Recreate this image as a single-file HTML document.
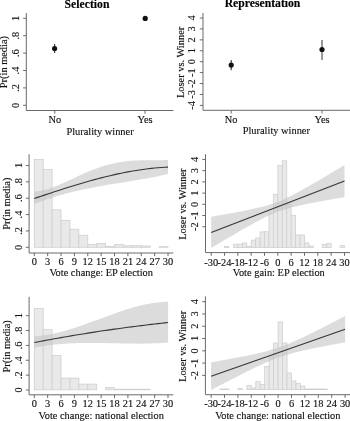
<!DOCTYPE html>
<html><head><meta charset="utf-8"><style>
html,body{margin:0;padding:0;background:#fff;}
body{width:350px;height:421px;overflow:hidden;}
svg{display:block;font-family:"Liberation Serif", serif;will-change:transform;}
</style></head><body>
<svg width="350" height="421" viewBox="0 0 350 421">
<rect width="350" height="421" fill="#fff"/>
<g>
<text x="87.00" y="7.60" text-anchor="middle" font-size="11.7" font-weight="bold" fill="#000" stroke="#000" stroke-width="0.14">Selection</text>
<line x1="26.30" y1="13.00" x2="26.30" y2="110.50" stroke="#6a6a6a" stroke-width="1.0"/>
<line x1="23.10" y1="105.30" x2="26.30" y2="105.30" stroke="#6a6a6a" stroke-width="1.0"/>
<text transform="translate(18.70,105.30) rotate(-90)" text-anchor="middle" font-size="10.4" font-weight="normal" fill="#111111" stroke="#111111" stroke-width="0.14">0</text>
<line x1="23.10" y1="87.90" x2="26.30" y2="87.90" stroke="#6a6a6a" stroke-width="1.0"/>
<text transform="translate(18.70,87.90) rotate(-90)" text-anchor="middle" font-size="10.4" font-weight="normal" fill="#111111" stroke="#111111" stroke-width="0.14">.2</text>
<line x1="23.10" y1="70.50" x2="26.30" y2="70.50" stroke="#6a6a6a" stroke-width="1.0"/>
<text transform="translate(18.70,70.50) rotate(-90)" text-anchor="middle" font-size="10.4" font-weight="normal" fill="#111111" stroke="#111111" stroke-width="0.14">.4</text>
<line x1="23.10" y1="53.10" x2="26.30" y2="53.10" stroke="#6a6a6a" stroke-width="1.0"/>
<text transform="translate(18.70,53.10) rotate(-90)" text-anchor="middle" font-size="10.4" font-weight="normal" fill="#111111" stroke="#111111" stroke-width="0.14">.6</text>
<line x1="23.10" y1="35.70" x2="26.30" y2="35.70" stroke="#6a6a6a" stroke-width="1.0"/>
<text transform="translate(18.70,35.70) rotate(-90)" text-anchor="middle" font-size="10.4" font-weight="normal" fill="#111111" stroke="#111111" stroke-width="0.14">.8</text>
<line x1="23.10" y1="18.30" x2="26.30" y2="18.30" stroke="#6a6a6a" stroke-width="1.0"/>
<text transform="translate(18.70,18.30) rotate(-90)" text-anchor="middle" font-size="10.4" font-weight="normal" fill="#111111" stroke="#111111" stroke-width="0.14">1</text>
<text transform="translate(7.10,62.10) rotate(-90)" text-anchor="middle" font-size="10.4" font-weight="normal" fill="#111111" stroke="#111111" stroke-width="0.14">Pr(in media)</text>
<line x1="26.30" y1="110.50" x2="173.30" y2="110.50" stroke="#6a6a6a" stroke-width="1.0"/>
<line x1="54.80" y1="110.50" x2="54.80" y2="113.70" stroke="#6a6a6a" stroke-width="1.0"/>
<text x="54.80" y="123.00" text-anchor="middle" font-size="10.4" font-weight="normal" fill="#111111" stroke="#111111" stroke-width="0.14">No</text>
<line x1="145.00" y1="110.50" x2="145.00" y2="113.70" stroke="#6a6a6a" stroke-width="1.0"/>
<text x="145.00" y="123.00" text-anchor="middle" font-size="10.4" font-weight="normal" fill="#111111" stroke="#111111" stroke-width="0.14">Yes</text>
<text x="100.00" y="134.50" text-anchor="middle" font-size="10.4" font-weight="normal" fill="#111111" stroke="#111111" stroke-width="0.14">Plurality winner</text>
<line x1="54.60" y1="43.90" x2="54.60" y2="53.10" stroke="#444" stroke-width="1.2"/>
<circle cx="54.6" cy="48.5" r="2.6" fill="#111"/>
<circle cx="145.2" cy="18.4" r="2.6" fill="#111"/>
</g>
<text x="262.50" y="7.30" text-anchor="middle" font-size="11.7" font-weight="bold" fill="#000" stroke="#000" stroke-width="0.14">Representation</text>
<line x1="203.00" y1="13.00" x2="203.00" y2="110.30" stroke="#6a6a6a" stroke-width="1.0"/>
<line x1="199.80" y1="18.02" x2="203.00" y2="18.02" stroke="#6a6a6a" stroke-width="1.0"/>
<text transform="translate(195.40,18.02) rotate(-90)" text-anchor="middle" font-size="10.4" font-weight="normal" fill="#111111" stroke="#111111" stroke-width="0.14">4</text>
<line x1="199.80" y1="28.94" x2="203.00" y2="28.94" stroke="#6a6a6a" stroke-width="1.0"/>
<text transform="translate(195.40,28.94) rotate(-90)" text-anchor="middle" font-size="10.4" font-weight="normal" fill="#111111" stroke="#111111" stroke-width="0.14">3</text>
<line x1="199.80" y1="39.86" x2="203.00" y2="39.86" stroke="#6a6a6a" stroke-width="1.0"/>
<text transform="translate(195.40,39.86) rotate(-90)" text-anchor="middle" font-size="10.4" font-weight="normal" fill="#111111" stroke="#111111" stroke-width="0.14">2</text>
<line x1="199.80" y1="50.78" x2="203.00" y2="50.78" stroke="#6a6a6a" stroke-width="1.0"/>
<text transform="translate(195.40,50.78) rotate(-90)" text-anchor="middle" font-size="10.4" font-weight="normal" fill="#111111" stroke="#111111" stroke-width="0.14">1</text>
<line x1="199.80" y1="61.70" x2="203.00" y2="61.70" stroke="#6a6a6a" stroke-width="1.0"/>
<text transform="translate(195.40,61.70) rotate(-90)" text-anchor="middle" font-size="10.4" font-weight="normal" fill="#111111" stroke="#111111" stroke-width="0.14">0</text>
<line x1="199.80" y1="72.62" x2="203.00" y2="72.62" stroke="#6a6a6a" stroke-width="1.0"/>
<text transform="translate(195.40,72.62) rotate(-90)" text-anchor="middle" font-size="10.4" font-weight="normal" fill="#111111" stroke="#111111" stroke-width="0.14">-1</text>
<line x1="199.80" y1="83.54" x2="203.00" y2="83.54" stroke="#6a6a6a" stroke-width="1.0"/>
<text transform="translate(195.40,83.54) rotate(-90)" text-anchor="middle" font-size="10.4" font-weight="normal" fill="#111111" stroke="#111111" stroke-width="0.14">-2</text>
<line x1="199.80" y1="94.46" x2="203.00" y2="94.46" stroke="#6a6a6a" stroke-width="1.0"/>
<text transform="translate(195.40,94.46) rotate(-90)" text-anchor="middle" font-size="10.4" font-weight="normal" fill="#111111" stroke="#111111" stroke-width="0.14">-3</text>
<line x1="199.80" y1="105.38" x2="203.00" y2="105.38" stroke="#6a6a6a" stroke-width="1.0"/>
<text transform="translate(195.40,105.38) rotate(-90)" text-anchor="middle" font-size="10.4" font-weight="normal" fill="#111111" stroke="#111111" stroke-width="0.14">-4</text>
<text transform="translate(183.80,62.40) rotate(-90)" text-anchor="middle" font-size="10.4" font-weight="normal" fill="#111111" stroke="#111111" stroke-width="0.14">Loser vs. Winner</text>
<line x1="203.00" y1="110.30" x2="350.00" y2="110.30" stroke="#6a6a6a" stroke-width="1.0"/>
<line x1="231.20" y1="110.30" x2="231.20" y2="113.50" stroke="#6a6a6a" stroke-width="1.0"/>
<text x="231.20" y="123.00" text-anchor="middle" font-size="10.4" font-weight="normal" fill="#111111" stroke="#111111" stroke-width="0.14">No</text>
<line x1="322.00" y1="110.30" x2="322.00" y2="113.50" stroke="#6a6a6a" stroke-width="1.0"/>
<text x="322.00" y="123.00" text-anchor="middle" font-size="10.4" font-weight="normal" fill="#111111" stroke="#111111" stroke-width="0.14">Yes</text>
<text x="276.30" y="134.30" text-anchor="middle" font-size="10.4" font-weight="normal" fill="#111111" stroke="#111111" stroke-width="0.14">Plurality winner</text>
<line x1="231.20" y1="60.10" x2="231.20" y2="70.20" stroke="#444" stroke-width="1.2"/>
<circle cx="231.2" cy="65.1" r="2.6" fill="#111"/>
<line x1="322.00" y1="40.00" x2="322.00" y2="59.90" stroke="#555" stroke-width="1.2"/>
<circle cx="322.0" cy="49.5" r="2.6" fill="#111"/>
<rect x="34.30" y="159.50" width="8.91" height="87.80" fill="#e9e9e9" stroke="#d0d0d0" stroke-width="0.8"/>
<rect x="43.21" y="169.40" width="8.91" height="77.90" fill="#e9e9e9" stroke="#d0d0d0" stroke-width="0.8"/>
<rect x="52.13" y="209.80" width="8.91" height="37.50" fill="#e9e9e9" stroke="#d0d0d0" stroke-width="0.8"/>
<rect x="61.04" y="220.30" width="8.91" height="27.00" fill="#e9e9e9" stroke="#d0d0d0" stroke-width="0.8"/>
<rect x="69.96" y="229.20" width="8.91" height="18.10" fill="#e9e9e9" stroke="#d0d0d0" stroke-width="0.8"/>
<rect x="78.87" y="235.20" width="8.91" height="12.10" fill="#e9e9e9" stroke="#d0d0d0" stroke-width="0.8"/>
<rect x="87.78" y="244.40" width="8.91" height="2.90" fill="#e9e9e9" stroke="#d0d0d0" stroke-width="0.8"/>
<rect x="96.70" y="243.40" width="8.91" height="3.90" fill="#e9e9e9" stroke="#d0d0d0" stroke-width="0.8"/>
<rect x="105.61" y="246.50" width="8.91" height="0.80" fill="#e9e9e9" stroke="#d0d0d0" stroke-width="0.8"/>
<rect x="114.53" y="244.60" width="8.91" height="2.70" fill="#e9e9e9" stroke="#d0d0d0" stroke-width="0.8"/>
<rect x="123.44" y="245.80" width="8.91" height="1.50" fill="#e9e9e9" stroke="#d0d0d0" stroke-width="0.8"/>
<rect x="132.35" y="245.70" width="8.91" height="1.60" fill="#e9e9e9" stroke="#d0d0d0" stroke-width="0.8"/>
<rect x="141.27" y="246.00" width="8.91" height="1.30" fill="#e9e9e9" stroke="#d0d0d0" stroke-width="0.8"/>
<rect x="159.10" y="246.60" width="8.91" height="0.70" fill="#e9e9e9" stroke="#d0d0d0" stroke-width="0.8"/>
<path d="M34.30,191.58 L37.64,191.31 L40.98,190.79 L44.33,190.05 L47.67,189.13 L51.01,188.03 L54.35,186.81 L57.70,185.47 L61.04,184.04 L64.38,182.55 L67.72,181.01 L71.07,179.45 L74.41,177.88 L77.75,176.33 L81.09,174.80 L84.44,173.30 L87.78,171.86 L91.12,170.48 L94.47,169.18 L97.81,167.95 L101.15,166.81 L104.49,165.76 L107.83,164.80 L111.18,163.95 L114.52,163.19 L117.86,162.53 L121.20,161.97 L124.55,161.50 L127.89,161.12 L131.23,160.83 L134.57,160.60 L137.92,160.45 L141.26,160.34 L144.60,160.29 L147.94,160.26 L151.29,160.25 L154.63,160.23 L157.97,160.20 L161.31,160.14 L164.66,160.01 L168.00,159.81 L168.00,174.06 L164.66,174.81 L161.31,175.53 L157.97,176.22 L154.63,176.89 L151.29,177.53 L147.94,178.15 L144.60,178.76 L141.26,179.35 L137.92,179.92 L134.57,180.48 L131.23,181.04 L127.89,181.58 L124.55,182.13 L121.20,182.67 L117.86,183.21 L114.52,183.76 L111.18,184.31 L107.83,184.87 L104.49,185.44 L101.15,186.03 L97.81,186.62 L94.47,187.24 L91.12,187.88 L87.78,188.54 L84.44,189.22 L81.09,189.93 L77.75,190.67 L74.41,191.44 L71.07,192.25 L67.72,193.09 L64.38,193.97 L61.04,194.90 L57.70,195.87 L54.35,196.88 L51.01,197.94 L47.67,199.06 L44.33,200.23 L40.98,201.45 L37.64,202.73 L34.30,204.08 Z" fill="#c4c4c4" fill-opacity="0.6" stroke="none"/>
<path d="M34.30,198.51 L37.64,197.38 L40.98,196.26 L44.33,195.14 L47.67,194.02 L51.01,192.92 L54.35,191.82 L57.70,190.73 L61.04,189.65 L64.38,188.58 L67.72,187.52 L71.07,186.48 L74.41,185.45 L77.75,184.44 L81.09,183.44 L84.44,182.46 L87.78,181.50 L91.12,180.56 L94.47,179.65 L97.81,178.75 L101.15,177.88 L104.49,177.03 L107.83,176.21 L111.18,175.42 L114.52,174.65 L117.86,173.91 L121.20,173.21 L124.55,172.53 L127.89,171.89 L131.23,171.28 L134.57,170.71 L137.92,170.17 L141.26,169.67 L144.60,169.20 L147.94,168.78 L151.29,168.40 L154.63,168.06 L157.97,167.76 L161.31,167.50 L164.66,167.29 L168.00,167.13" fill="none" stroke="#353535" stroke-width="1.1" stroke-linejoin="round"/>
<line x1="29.10" y1="154.30" x2="29.10" y2="253.00" stroke="#6a6a6a" stroke-width="1.0"/>
<line x1="25.90" y1="247.30" x2="29.10" y2="247.30" stroke="#6a6a6a" stroke-width="1.0"/>
<text transform="translate(21.50,247.30) rotate(-90)" text-anchor="middle" font-size="10.4" font-weight="normal" fill="#111111" stroke="#111111" stroke-width="0.14">0</text>
<line x1="25.90" y1="230.94" x2="29.10" y2="230.94" stroke="#6a6a6a" stroke-width="1.0"/>
<text transform="translate(21.50,230.94) rotate(-90)" text-anchor="middle" font-size="10.4" font-weight="normal" fill="#111111" stroke="#111111" stroke-width="0.14">.2</text>
<line x1="25.90" y1="214.58" x2="29.10" y2="214.58" stroke="#6a6a6a" stroke-width="1.0"/>
<text transform="translate(21.50,214.58) rotate(-90)" text-anchor="middle" font-size="10.4" font-weight="normal" fill="#111111" stroke="#111111" stroke-width="0.14">.4</text>
<line x1="25.90" y1="198.22" x2="29.10" y2="198.22" stroke="#6a6a6a" stroke-width="1.0"/>
<text transform="translate(21.50,198.22) rotate(-90)" text-anchor="middle" font-size="10.4" font-weight="normal" fill="#111111" stroke="#111111" stroke-width="0.14">.6</text>
<line x1="25.90" y1="181.86" x2="29.10" y2="181.86" stroke="#6a6a6a" stroke-width="1.0"/>
<text transform="translate(21.50,181.86) rotate(-90)" text-anchor="middle" font-size="10.4" font-weight="normal" fill="#111111" stroke="#111111" stroke-width="0.14">.8</text>
<line x1="25.90" y1="165.50" x2="29.10" y2="165.50" stroke="#6a6a6a" stroke-width="1.0"/>
<text transform="translate(21.50,165.50) rotate(-90)" text-anchor="middle" font-size="10.4" font-weight="normal" fill="#111111" stroke="#111111" stroke-width="0.14">1</text>
<text transform="translate(9.90,203.70) rotate(-90)" text-anchor="middle" font-size="10.4" font-weight="normal" fill="#111111" stroke="#111111" stroke-width="0.14">Pr(in media)</text>
<line x1="29.10" y1="253.00" x2="173.30" y2="253.00" stroke="#6a6a6a" stroke-width="1.0"/>
<line x1="34.30" y1="253.00" x2="34.30" y2="256.20" stroke="#6a6a6a" stroke-width="1.0"/>
<text x="34.30" y="265.30" text-anchor="middle" font-size="10.4" font-weight="normal" fill="#111111" stroke="#111111" stroke-width="0.14">0</text>
<line x1="47.67" y1="253.00" x2="47.67" y2="256.20" stroke="#6a6a6a" stroke-width="1.0"/>
<text x="47.67" y="265.30" text-anchor="middle" font-size="10.4" font-weight="normal" fill="#111111" stroke="#111111" stroke-width="0.14">3</text>
<line x1="61.04" y1="253.00" x2="61.04" y2="256.20" stroke="#6a6a6a" stroke-width="1.0"/>
<text x="61.04" y="265.30" text-anchor="middle" font-size="10.4" font-weight="normal" fill="#111111" stroke="#111111" stroke-width="0.14">6</text>
<line x1="74.41" y1="253.00" x2="74.41" y2="256.20" stroke="#6a6a6a" stroke-width="1.0"/>
<text x="74.41" y="265.30" text-anchor="middle" font-size="10.4" font-weight="normal" fill="#111111" stroke="#111111" stroke-width="0.14">9</text>
<line x1="87.78" y1="253.00" x2="87.78" y2="256.20" stroke="#6a6a6a" stroke-width="1.0"/>
<text x="87.78" y="265.30" text-anchor="middle" font-size="10.4" font-weight="normal" fill="#111111" stroke="#111111" stroke-width="0.14">12</text>
<line x1="101.16" y1="253.00" x2="101.16" y2="256.20" stroke="#6a6a6a" stroke-width="1.0"/>
<text x="101.16" y="265.30" text-anchor="middle" font-size="10.4" font-weight="normal" fill="#111111" stroke="#111111" stroke-width="0.14">15</text>
<line x1="114.53" y1="253.00" x2="114.53" y2="256.20" stroke="#6a6a6a" stroke-width="1.0"/>
<text x="114.53" y="265.30" text-anchor="middle" font-size="10.4" font-weight="normal" fill="#111111" stroke="#111111" stroke-width="0.14">18</text>
<line x1="127.90" y1="253.00" x2="127.90" y2="256.20" stroke="#6a6a6a" stroke-width="1.0"/>
<text x="127.90" y="265.30" text-anchor="middle" font-size="10.4" font-weight="normal" fill="#111111" stroke="#111111" stroke-width="0.14">21</text>
<line x1="141.27" y1="253.00" x2="141.27" y2="256.20" stroke="#6a6a6a" stroke-width="1.0"/>
<text x="141.27" y="265.30" text-anchor="middle" font-size="10.4" font-weight="normal" fill="#111111" stroke="#111111" stroke-width="0.14">24</text>
<line x1="154.64" y1="253.00" x2="154.64" y2="256.20" stroke="#6a6a6a" stroke-width="1.0"/>
<text x="154.64" y="265.30" text-anchor="middle" font-size="10.4" font-weight="normal" fill="#111111" stroke="#111111" stroke-width="0.14">27</text>
<line x1="168.01" y1="253.00" x2="168.01" y2="256.20" stroke="#6a6a6a" stroke-width="1.0"/>
<text x="168.01" y="265.30" text-anchor="middle" font-size="10.4" font-weight="normal" fill="#111111" stroke="#111111" stroke-width="0.14">30</text>
<text x="101.20" y="276.00" text-anchor="middle" font-size="10.4" font-weight="normal" fill="#111111" stroke="#111111" stroke-width="0.14">Vote change: EP election</text>
<rect x="224.55" y="246.40" width="4.44" height="1.10" fill="#e9e9e9" stroke="#d0d0d0" stroke-width="0.8"/>
<rect x="233.43" y="244.20" width="4.44" height="3.30" fill="#e9e9e9" stroke="#d0d0d0" stroke-width="0.8"/>
<rect x="237.87" y="244.20" width="4.44" height="3.30" fill="#e9e9e9" stroke="#d0d0d0" stroke-width="0.8"/>
<rect x="242.31" y="243.00" width="4.44" height="4.50" fill="#e9e9e9" stroke="#d0d0d0" stroke-width="0.8"/>
<rect x="246.76" y="246.40" width="4.44" height="1.10" fill="#e9e9e9" stroke="#d0d0d0" stroke-width="0.8"/>
<rect x="251.20" y="240.10" width="4.44" height="7.40" fill="#e9e9e9" stroke="#d0d0d0" stroke-width="0.8"/>
<rect x="255.64" y="237.90" width="4.44" height="9.60" fill="#e9e9e9" stroke="#d0d0d0" stroke-width="0.8"/>
<rect x="260.08" y="231.90" width="4.44" height="15.60" fill="#e9e9e9" stroke="#d0d0d0" stroke-width="0.8"/>
<rect x="264.52" y="231.70" width="4.44" height="15.80" fill="#e9e9e9" stroke="#d0d0d0" stroke-width="0.8"/>
<rect x="268.97" y="213.00" width="4.44" height="34.50" fill="#e9e9e9" stroke="#d0d0d0" stroke-width="0.8"/>
<rect x="273.41" y="194.30" width="4.44" height="53.20" fill="#e9e9e9" stroke="#d0d0d0" stroke-width="0.8"/>
<rect x="277.85" y="165.40" width="4.44" height="82.10" fill="#e9e9e9" stroke="#d0d0d0" stroke-width="0.8"/>
<rect x="282.29" y="160.80" width="4.44" height="86.70" fill="#e9e9e9" stroke="#d0d0d0" stroke-width="0.8"/>
<rect x="286.73" y="204.30" width="4.44" height="43.20" fill="#e9e9e9" stroke="#d0d0d0" stroke-width="0.8"/>
<rect x="291.18" y="215.40" width="4.44" height="32.10" fill="#e9e9e9" stroke="#d0d0d0" stroke-width="0.8"/>
<rect x="295.62" y="235.00" width="4.44" height="12.50" fill="#e9e9e9" stroke="#d0d0d0" stroke-width="0.8"/>
<rect x="300.06" y="235.00" width="4.44" height="12.50" fill="#e9e9e9" stroke="#d0d0d0" stroke-width="0.8"/>
<rect x="304.50" y="243.00" width="4.44" height="4.50" fill="#e9e9e9" stroke="#d0d0d0" stroke-width="0.8"/>
<rect x="308.94" y="246.10" width="4.44" height="1.40" fill="#e9e9e9" stroke="#d0d0d0" stroke-width="0.8"/>
<rect x="322.27" y="244.30" width="4.44" height="3.20" fill="#e9e9e9" stroke="#d0d0d0" stroke-width="0.8"/>
<rect x="326.71" y="243.60" width="4.44" height="3.90" fill="#e9e9e9" stroke="#d0d0d0" stroke-width="0.8"/>
<rect x="340.04" y="245.60" width="4.44" height="1.90" fill="#e9e9e9" stroke="#d0d0d0" stroke-width="0.8"/>
<path d="M211.20,216.77 L214.53,216.20 L217.86,215.62 L221.20,215.04 L224.53,214.45 L227.86,213.85 L231.19,213.25 L234.53,212.64 L237.86,212.01 L241.19,211.38 L244.52,210.72 L247.86,210.05 L251.19,209.35 L254.52,208.62 L257.86,207.85 L261.19,207.03 L264.52,206.15 L267.85,205.19 L271.19,204.15 L274.52,203.00 L277.85,201.75 L281.18,200.38 L284.51,198.91 L287.85,197.34 L291.18,195.69 L294.51,193.97 L297.85,192.20 L301.18,190.38 L304.51,188.53 L307.84,186.65 L311.18,184.75 L314.51,182.83 L317.84,180.90 L321.17,178.95 L324.50,176.99 L327.84,175.03 L331.17,173.06 L334.50,171.08 L337.84,169.09 L341.17,167.10 L344.50,165.11 L344.50,197.09 L341.17,197.66 L337.84,198.24 L334.50,198.82 L331.17,199.40 L327.84,200.00 L324.50,200.60 L321.17,201.20 L317.84,201.82 L314.51,202.45 L311.18,203.10 L307.84,203.76 L304.51,204.45 L301.18,205.16 L297.85,205.91 L294.51,206.70 L291.18,207.55 L287.85,208.47 L284.51,209.46 L281.18,210.56 L277.85,211.75 L274.52,213.06 L271.19,214.48 L267.85,216.00 L264.52,217.61 L261.19,219.30 L257.86,221.04 L254.52,222.84 L251.19,224.67 L247.86,226.54 L244.52,228.43 L241.19,230.34 L237.86,232.27 L234.53,234.21 L231.19,236.16 L227.86,238.12 L224.53,240.09 L221.20,242.07 L217.86,244.05 L214.53,246.04 L211.20,248.03 Z" fill="#c4c4c4" fill-opacity="0.6" stroke="none"/>
<line x1="211.20" y1="232.40" x2="344.50" y2="181.10" stroke="#353535" stroke-width="1.1"/>
<line x1="205.50" y1="154.30" x2="205.50" y2="252.60" stroke="#6a6a6a" stroke-width="1.0"/>
<line x1="202.30" y1="159.42" x2="205.50" y2="159.42" stroke="#6a6a6a" stroke-width="1.0"/>
<text transform="translate(197.90,159.42) rotate(-90)" text-anchor="middle" font-size="10.4" font-weight="normal" fill="#111111" stroke="#111111" stroke-width="0.14">4</text>
<line x1="202.30" y1="170.64" x2="205.50" y2="170.64" stroke="#6a6a6a" stroke-width="1.0"/>
<text transform="translate(197.90,170.64) rotate(-90)" text-anchor="middle" font-size="10.4" font-weight="normal" fill="#111111" stroke="#111111" stroke-width="0.14">3</text>
<line x1="202.30" y1="181.86" x2="205.50" y2="181.86" stroke="#6a6a6a" stroke-width="1.0"/>
<text transform="translate(197.90,181.86) rotate(-90)" text-anchor="middle" font-size="10.4" font-weight="normal" fill="#111111" stroke="#111111" stroke-width="0.14">2</text>
<line x1="202.30" y1="193.08" x2="205.50" y2="193.08" stroke="#6a6a6a" stroke-width="1.0"/>
<text transform="translate(197.90,193.08) rotate(-90)" text-anchor="middle" font-size="10.4" font-weight="normal" fill="#111111" stroke="#111111" stroke-width="0.14">1</text>
<line x1="202.30" y1="204.30" x2="205.50" y2="204.30" stroke="#6a6a6a" stroke-width="1.0"/>
<text transform="translate(197.90,204.30) rotate(-90)" text-anchor="middle" font-size="10.4" font-weight="normal" fill="#111111" stroke="#111111" stroke-width="0.14">0</text>
<line x1="202.30" y1="215.52" x2="205.50" y2="215.52" stroke="#6a6a6a" stroke-width="1.0"/>
<text transform="translate(197.90,215.52) rotate(-90)" text-anchor="middle" font-size="10.4" font-weight="normal" fill="#111111" stroke="#111111" stroke-width="0.14">-1</text>
<line x1="202.30" y1="226.74" x2="205.50" y2="226.74" stroke="#6a6a6a" stroke-width="1.0"/>
<text transform="translate(197.90,226.74) rotate(-90)" text-anchor="middle" font-size="10.4" font-weight="normal" fill="#111111" stroke="#111111" stroke-width="0.14">-2</text>
<text transform="translate(186.30,204.10) rotate(-90)" text-anchor="middle" font-size="10.4" font-weight="normal" fill="#111111" stroke="#111111" stroke-width="0.14">Loser vs. Winner</text>
<line x1="205.50" y1="252.60" x2="350.00" y2="252.60" stroke="#6a6a6a" stroke-width="1.0"/>
<line x1="211.22" y1="252.60" x2="211.22" y2="255.80" stroke="#6a6a6a" stroke-width="1.0"/>
<text x="211.22" y="265.50" text-anchor="middle" font-size="10.4" font-weight="normal" fill="#111111" stroke="#111111" stroke-width="0.14">-30</text>
<line x1="224.55" y1="252.60" x2="224.55" y2="255.80" stroke="#6a6a6a" stroke-width="1.0"/>
<text x="224.55" y="265.50" text-anchor="middle" font-size="10.4" font-weight="normal" fill="#111111" stroke="#111111" stroke-width="0.14">-24</text>
<line x1="237.87" y1="252.60" x2="237.87" y2="255.80" stroke="#6a6a6a" stroke-width="1.0"/>
<text x="237.87" y="265.50" text-anchor="middle" font-size="10.4" font-weight="normal" fill="#111111" stroke="#111111" stroke-width="0.14">-18</text>
<line x1="251.20" y1="252.60" x2="251.20" y2="255.80" stroke="#6a6a6a" stroke-width="1.0"/>
<text x="251.20" y="265.50" text-anchor="middle" font-size="10.4" font-weight="normal" fill="#111111" stroke="#111111" stroke-width="0.14">-12</text>
<line x1="264.52" y1="252.60" x2="264.52" y2="255.80" stroke="#6a6a6a" stroke-width="1.0"/>
<text x="264.52" y="265.50" text-anchor="middle" font-size="10.4" font-weight="normal" fill="#111111" stroke="#111111" stroke-width="0.14">-6</text>
<line x1="277.85" y1="252.60" x2="277.85" y2="255.80" stroke="#6a6a6a" stroke-width="1.0"/>
<text x="277.85" y="265.50" text-anchor="middle" font-size="10.4" font-weight="normal" fill="#111111" stroke="#111111" stroke-width="0.14">0</text>
<line x1="291.18" y1="252.60" x2="291.18" y2="255.80" stroke="#6a6a6a" stroke-width="1.0"/>
<text x="291.18" y="265.50" text-anchor="middle" font-size="10.4" font-weight="normal" fill="#111111" stroke="#111111" stroke-width="0.14">6</text>
<line x1="304.50" y1="252.60" x2="304.50" y2="255.80" stroke="#6a6a6a" stroke-width="1.0"/>
<text x="304.50" y="265.50" text-anchor="middle" font-size="10.4" font-weight="normal" fill="#111111" stroke="#111111" stroke-width="0.14">12</text>
<line x1="317.83" y1="252.60" x2="317.83" y2="255.80" stroke="#6a6a6a" stroke-width="1.0"/>
<text x="317.83" y="265.50" text-anchor="middle" font-size="10.4" font-weight="normal" fill="#111111" stroke="#111111" stroke-width="0.14">18</text>
<line x1="331.15" y1="252.60" x2="331.15" y2="255.80" stroke="#6a6a6a" stroke-width="1.0"/>
<text x="331.15" y="265.50" text-anchor="middle" font-size="10.4" font-weight="normal" fill="#111111" stroke="#111111" stroke-width="0.14">24</text>
<line x1="344.48" y1="252.60" x2="344.48" y2="255.80" stroke="#6a6a6a" stroke-width="1.0"/>
<text x="344.48" y="265.50" text-anchor="middle" font-size="10.4" font-weight="normal" fill="#111111" stroke="#111111" stroke-width="0.14">30</text>
<text x="278.80" y="276.20" text-anchor="middle" font-size="10.4" font-weight="normal" fill="#111111" stroke="#111111" stroke-width="0.14">Vote gain: EP election</text>
<rect x="34.30" y="308.50" width="8.91" height="81.30" fill="#e9e9e9" stroke="#d0d0d0" stroke-width="0.8"/>
<rect x="43.21" y="329.70" width="8.91" height="60.10" fill="#e9e9e9" stroke="#d0d0d0" stroke-width="0.8"/>
<rect x="52.13" y="355.60" width="8.91" height="34.20" fill="#e9e9e9" stroke="#d0d0d0" stroke-width="0.8"/>
<rect x="61.04" y="378.10" width="8.91" height="11.70" fill="#e9e9e9" stroke="#d0d0d0" stroke-width="0.8"/>
<rect x="69.96" y="378.10" width="8.91" height="11.70" fill="#e9e9e9" stroke="#d0d0d0" stroke-width="0.8"/>
<rect x="78.87" y="384.10" width="8.91" height="5.70" fill="#e9e9e9" stroke="#d0d0d0" stroke-width="0.8"/>
<rect x="87.78" y="384.10" width="8.91" height="5.70" fill="#e9e9e9" stroke="#d0d0d0" stroke-width="0.8"/>
<rect x="105.61" y="387.60" width="8.91" height="2.20" fill="#e9e9e9" stroke="#d0d0d0" stroke-width="0.8"/>
<rect x="114.53" y="389.20" width="8.91" height="0.60" fill="#e9e9e9" stroke="#d0d0d0" stroke-width="0.8"/>
<rect x="123.44" y="389.20" width="8.91" height="0.60" fill="#e9e9e9" stroke="#d0d0d0" stroke-width="0.8"/>
<rect x="132.35" y="389.20" width="8.91" height="0.60" fill="#e9e9e9" stroke="#d0d0d0" stroke-width="0.8"/>
<rect x="141.27" y="389.20" width="8.91" height="0.60" fill="#e9e9e9" stroke="#d0d0d0" stroke-width="0.8"/>
<path d="M34.30,336.25 L37.64,336.03 L40.99,335.70 L44.33,335.28 L47.68,334.76 L51.02,334.15 L54.37,333.46 L57.72,332.70 L61.06,331.86 L64.41,330.96 L67.75,330.00 L71.09,328.99 L74.44,327.93 L77.78,326.82 L81.13,325.68 L84.47,324.51 L87.82,323.32 L91.17,322.10 L94.51,320.87 L97.86,319.63 L101.20,318.39 L104.55,317.15 L107.89,315.93 L111.23,314.71 L114.58,313.52 L117.93,312.35 L121.27,311.21 L124.62,310.11 L127.96,309.05 L131.31,308.04 L134.65,307.09 L138.00,306.19 L141.34,305.36 L144.69,304.61 L148.03,303.92 L151.38,303.32 L154.72,302.81 L158.06,302.40 L161.41,302.08 L164.75,301.86 L168.10,301.76 L168.10,342.53 L164.75,342.80 L161.41,343.02 L158.06,343.20 L154.72,343.35 L151.38,343.46 L148.03,343.54 L144.69,343.60 L141.34,343.63 L138.00,343.64 L134.65,343.62 L131.31,343.60 L127.96,343.55 L124.62,343.50 L121.27,343.44 L117.93,343.37 L114.58,343.30 L111.23,343.23 L107.89,343.16 L104.55,343.10 L101.20,343.04 L97.86,342.99 L94.51,342.96 L91.17,342.95 L87.82,342.95 L84.47,342.97 L81.13,343.02 L77.78,343.10 L74.44,343.20 L71.09,343.34 L67.75,343.51 L64.41,343.72 L61.06,343.98 L57.72,344.27 L54.37,344.61 L51.02,345.00 L47.68,345.44 L44.33,345.94 L40.99,346.49 L37.64,347.10 L34.30,347.77 Z" fill="#c4c4c4" fill-opacity="0.6" stroke="none"/>
<path d="M34.30,342.57 L37.64,341.93 L40.99,341.29 L44.33,340.66 L47.68,340.04 L51.02,339.42 L54.37,338.81 L57.72,338.21 L61.06,337.62 L64.41,337.03 L67.75,336.45 L71.09,335.88 L74.44,335.32 L77.78,334.76 L81.13,334.22 L84.47,333.67 L87.82,333.14 L91.17,332.61 L94.51,332.09 L97.86,331.58 L101.20,331.08 L104.55,330.58 L107.89,330.09 L111.23,329.61 L114.58,329.14 L117.93,328.67 L121.27,328.21 L124.62,327.76 L127.96,327.31 L131.31,326.87 L134.65,326.44 L138.00,326.02 L141.34,325.61 L144.69,325.20 L148.03,324.80 L151.38,324.41 L154.72,324.02 L158.06,323.64 L161.41,323.27 L164.75,322.91 L168.10,322.55" fill="none" stroke="#353535" stroke-width="1.1" stroke-linejoin="round"/>
<line x1="29.10" y1="296.90" x2="29.10" y2="394.80" stroke="#6a6a6a" stroke-width="1.0"/>
<line x1="25.90" y1="390.00" x2="29.10" y2="390.00" stroke="#6a6a6a" stroke-width="1.0"/>
<text transform="translate(21.50,390.00) rotate(-90)" text-anchor="middle" font-size="10.4" font-weight="normal" fill="#111111" stroke="#111111" stroke-width="0.14">0</text>
<line x1="25.90" y1="375.14" x2="29.10" y2="375.14" stroke="#6a6a6a" stroke-width="1.0"/>
<text transform="translate(21.50,375.14) rotate(-90)" text-anchor="middle" font-size="10.4" font-weight="normal" fill="#111111" stroke="#111111" stroke-width="0.14">.2</text>
<line x1="25.90" y1="360.28" x2="29.10" y2="360.28" stroke="#6a6a6a" stroke-width="1.0"/>
<text transform="translate(21.50,360.28) rotate(-90)" text-anchor="middle" font-size="10.4" font-weight="normal" fill="#111111" stroke="#111111" stroke-width="0.14">.4</text>
<line x1="25.90" y1="345.42" x2="29.10" y2="345.42" stroke="#6a6a6a" stroke-width="1.0"/>
<text transform="translate(21.50,345.42) rotate(-90)" text-anchor="middle" font-size="10.4" font-weight="normal" fill="#111111" stroke="#111111" stroke-width="0.14">.6</text>
<line x1="25.90" y1="330.56" x2="29.10" y2="330.56" stroke="#6a6a6a" stroke-width="1.0"/>
<text transform="translate(21.50,330.56) rotate(-90)" text-anchor="middle" font-size="10.4" font-weight="normal" fill="#111111" stroke="#111111" stroke-width="0.14">.8</text>
<line x1="25.90" y1="315.70" x2="29.10" y2="315.70" stroke="#6a6a6a" stroke-width="1.0"/>
<text transform="translate(21.50,315.70) rotate(-90)" text-anchor="middle" font-size="10.4" font-weight="normal" fill="#111111" stroke="#111111" stroke-width="0.14">1</text>
<text transform="translate(9.90,346.30) rotate(-90)" text-anchor="middle" font-size="10.4" font-weight="normal" fill="#111111" stroke="#111111" stroke-width="0.14">Pr(in media)</text>
<line x1="29.10" y1="394.80" x2="173.30" y2="394.80" stroke="#6a6a6a" stroke-width="1.0"/>
<line x1="34.30" y1="394.80" x2="34.30" y2="398.00" stroke="#6a6a6a" stroke-width="1.0"/>
<text x="34.30" y="407.20" text-anchor="middle" font-size="10.4" font-weight="normal" fill="#111111" stroke="#111111" stroke-width="0.14">0</text>
<line x1="47.67" y1="394.80" x2="47.67" y2="398.00" stroke="#6a6a6a" stroke-width="1.0"/>
<text x="47.67" y="407.20" text-anchor="middle" font-size="10.4" font-weight="normal" fill="#111111" stroke="#111111" stroke-width="0.14">3</text>
<line x1="61.04" y1="394.80" x2="61.04" y2="398.00" stroke="#6a6a6a" stroke-width="1.0"/>
<text x="61.04" y="407.20" text-anchor="middle" font-size="10.4" font-weight="normal" fill="#111111" stroke="#111111" stroke-width="0.14">6</text>
<line x1="74.41" y1="394.80" x2="74.41" y2="398.00" stroke="#6a6a6a" stroke-width="1.0"/>
<text x="74.41" y="407.20" text-anchor="middle" font-size="10.4" font-weight="normal" fill="#111111" stroke="#111111" stroke-width="0.14">9</text>
<line x1="87.78" y1="394.80" x2="87.78" y2="398.00" stroke="#6a6a6a" stroke-width="1.0"/>
<text x="87.78" y="407.20" text-anchor="middle" font-size="10.4" font-weight="normal" fill="#111111" stroke="#111111" stroke-width="0.14">12</text>
<line x1="101.16" y1="394.80" x2="101.16" y2="398.00" stroke="#6a6a6a" stroke-width="1.0"/>
<text x="101.16" y="407.20" text-anchor="middle" font-size="10.4" font-weight="normal" fill="#111111" stroke="#111111" stroke-width="0.14">15</text>
<line x1="114.53" y1="394.80" x2="114.53" y2="398.00" stroke="#6a6a6a" stroke-width="1.0"/>
<text x="114.53" y="407.20" text-anchor="middle" font-size="10.4" font-weight="normal" fill="#111111" stroke="#111111" stroke-width="0.14">18</text>
<line x1="127.90" y1="394.80" x2="127.90" y2="398.00" stroke="#6a6a6a" stroke-width="1.0"/>
<text x="127.90" y="407.20" text-anchor="middle" font-size="10.4" font-weight="normal" fill="#111111" stroke="#111111" stroke-width="0.14">21</text>
<line x1="141.27" y1="394.80" x2="141.27" y2="398.00" stroke="#6a6a6a" stroke-width="1.0"/>
<text x="141.27" y="407.20" text-anchor="middle" font-size="10.4" font-weight="normal" fill="#111111" stroke="#111111" stroke-width="0.14">24</text>
<line x1="154.64" y1="394.80" x2="154.64" y2="398.00" stroke="#6a6a6a" stroke-width="1.0"/>
<text x="154.64" y="407.20" text-anchor="middle" font-size="10.4" font-weight="normal" fill="#111111" stroke="#111111" stroke-width="0.14">27</text>
<line x1="168.01" y1="394.80" x2="168.01" y2="398.00" stroke="#6a6a6a" stroke-width="1.0"/>
<text x="168.01" y="407.20" text-anchor="middle" font-size="10.4" font-weight="normal" fill="#111111" stroke="#111111" stroke-width="0.14">30</text>
<text x="101.20" y="418.70" text-anchor="middle" font-size="10.4" font-weight="normal" fill="#111111" stroke="#111111" stroke-width="0.14">Vote change: national election</text>
<rect x="220.04" y="389.00" width="4.47" height="0.60" fill="#e9e9e9" stroke="#d0d0d0" stroke-width="0.8"/>
<rect x="224.51" y="389.00" width="4.47" height="0.60" fill="#e9e9e9" stroke="#d0d0d0" stroke-width="0.8"/>
<rect x="237.91" y="388.60" width="4.47" height="1.00" fill="#e9e9e9" stroke="#d0d0d0" stroke-width="0.8"/>
<rect x="246.84" y="385.60" width="4.47" height="4.00" fill="#e9e9e9" stroke="#d0d0d0" stroke-width="0.8"/>
<rect x="251.30" y="388.00" width="4.47" height="1.60" fill="#e9e9e9" stroke="#d0d0d0" stroke-width="0.8"/>
<rect x="255.77" y="381.60" width="4.47" height="8.00" fill="#e9e9e9" stroke="#d0d0d0" stroke-width="0.8"/>
<rect x="260.24" y="384.40" width="4.47" height="5.20" fill="#e9e9e9" stroke="#d0d0d0" stroke-width="0.8"/>
<rect x="264.70" y="366.40" width="4.47" height="23.20" fill="#e9e9e9" stroke="#d0d0d0" stroke-width="0.8"/>
<rect x="269.17" y="357.00" width="4.47" height="32.60" fill="#e9e9e9" stroke="#d0d0d0" stroke-width="0.8"/>
<rect x="273.63" y="343.00" width="4.47" height="46.60" fill="#e9e9e9" stroke="#d0d0d0" stroke-width="0.8"/>
<rect x="278.10" y="322.00" width="4.47" height="67.60" fill="#e9e9e9" stroke="#d0d0d0" stroke-width="0.8"/>
<rect x="282.57" y="343.00" width="4.47" height="46.60" fill="#e9e9e9" stroke="#d0d0d0" stroke-width="0.8"/>
<rect x="287.03" y="373.00" width="4.47" height="16.60" fill="#e9e9e9" stroke="#d0d0d0" stroke-width="0.8"/>
<rect x="291.50" y="381.00" width="4.47" height="8.60" fill="#e9e9e9" stroke="#d0d0d0" stroke-width="0.8"/>
<rect x="295.96" y="383.50" width="4.47" height="6.10" fill="#e9e9e9" stroke="#d0d0d0" stroke-width="0.8"/>
<rect x="300.43" y="386.00" width="4.47" height="3.60" fill="#e9e9e9" stroke="#d0d0d0" stroke-width="0.8"/>
<rect x="304.90" y="389.00" width="4.47" height="0.60" fill="#e9e9e9" stroke="#d0d0d0" stroke-width="0.8"/>
<rect x="309.36" y="389.00" width="4.47" height="0.60" fill="#e9e9e9" stroke="#d0d0d0" stroke-width="0.8"/>
<rect x="313.83" y="389.00" width="4.47" height="0.60" fill="#e9e9e9" stroke="#d0d0d0" stroke-width="0.8"/>
<rect x="318.29" y="389.00" width="4.47" height="0.60" fill="#e9e9e9" stroke="#d0d0d0" stroke-width="0.8"/>
<rect x="322.76" y="389.00" width="4.47" height="0.60" fill="#e9e9e9" stroke="#d0d0d0" stroke-width="0.8"/>
<path d="M211.10,362.32 L214.45,361.73 L217.80,361.13 L221.15,360.53 L224.50,359.93 L227.85,359.32 L231.20,358.70 L234.55,358.07 L237.90,357.44 L241.25,356.79 L244.60,356.13 L247.95,355.45 L251.30,354.74 L254.65,354.02 L258.00,353.26 L261.35,352.47 L264.70,351.63 L268.05,350.74 L271.40,349.80 L274.75,348.78 L278.10,347.69 L281.45,346.52 L284.80,345.27 L288.15,343.95 L291.50,342.55 L294.85,341.10 L298.20,339.59 L301.55,338.04 L304.90,336.45 L308.25,334.83 L311.60,333.19 L314.95,331.52 L318.30,329.83 L321.65,328.13 L325.00,326.42 L328.35,324.70 L331.70,322.97 L335.05,321.23 L338.40,319.49 L341.75,317.74 L345.10,315.98 L345.10,342.42 L341.75,343.01 L338.40,343.61 L335.05,344.22 L331.70,344.83 L328.35,345.45 L325.00,346.08 L321.65,346.72 L318.30,347.37 L314.95,348.03 L311.60,348.71 L308.25,349.42 L304.90,350.15 L301.55,350.91 L298.20,351.71 L294.85,352.55 L291.50,353.45 L288.15,354.40 L284.80,355.43 L281.45,356.53 L278.10,357.71 L274.75,358.97 L271.40,360.30 L268.05,361.71 L264.70,363.17 L261.35,364.68 L258.00,366.24 L254.65,367.83 L251.30,369.46 L247.95,371.10 L244.60,372.77 L241.25,374.46 L237.90,376.16 L234.55,377.88 L231.20,379.60 L227.85,381.33 L224.50,383.07 L221.15,384.82 L217.80,386.57 L214.45,388.32 L211.10,390.08 Z" fill="#c4c4c4" fill-opacity="0.6" stroke="none"/>
<line x1="211.10" y1="376.20" x2="345.10" y2="329.20" stroke="#353535" stroke-width="1.1"/>
<line x1="205.40" y1="296.40" x2="205.40" y2="394.70" stroke="#6a6a6a" stroke-width="1.0"/>
<line x1="202.20" y1="301.68" x2="205.40" y2="301.68" stroke="#6a6a6a" stroke-width="1.0"/>
<text transform="translate(197.80,301.68) rotate(-90)" text-anchor="middle" font-size="10.4" font-weight="normal" fill="#111111" stroke="#111111" stroke-width="0.14">4</text>
<line x1="202.20" y1="313.96" x2="205.40" y2="313.96" stroke="#6a6a6a" stroke-width="1.0"/>
<text transform="translate(197.80,313.96) rotate(-90)" text-anchor="middle" font-size="10.4" font-weight="normal" fill="#111111" stroke="#111111" stroke-width="0.14">3</text>
<line x1="202.20" y1="326.24" x2="205.40" y2="326.24" stroke="#6a6a6a" stroke-width="1.0"/>
<text transform="translate(197.80,326.24) rotate(-90)" text-anchor="middle" font-size="10.4" font-weight="normal" fill="#111111" stroke="#111111" stroke-width="0.14">2</text>
<line x1="202.20" y1="338.52" x2="205.40" y2="338.52" stroke="#6a6a6a" stroke-width="1.0"/>
<text transform="translate(197.80,338.52) rotate(-90)" text-anchor="middle" font-size="10.4" font-weight="normal" fill="#111111" stroke="#111111" stroke-width="0.14">1</text>
<line x1="202.20" y1="350.80" x2="205.40" y2="350.80" stroke="#6a6a6a" stroke-width="1.0"/>
<text transform="translate(197.80,350.80) rotate(-90)" text-anchor="middle" font-size="10.4" font-weight="normal" fill="#111111" stroke="#111111" stroke-width="0.14">0</text>
<line x1="202.20" y1="363.08" x2="205.40" y2="363.08" stroke="#6a6a6a" stroke-width="1.0"/>
<text transform="translate(197.80,363.08) rotate(-90)" text-anchor="middle" font-size="10.4" font-weight="normal" fill="#111111" stroke="#111111" stroke-width="0.14">-1</text>
<line x1="202.20" y1="375.36" x2="205.40" y2="375.36" stroke="#6a6a6a" stroke-width="1.0"/>
<text transform="translate(197.80,375.36) rotate(-90)" text-anchor="middle" font-size="10.4" font-weight="normal" fill="#111111" stroke="#111111" stroke-width="0.14">-2</text>
<text transform="translate(186.20,346.30) rotate(-90)" text-anchor="middle" font-size="10.4" font-weight="normal" fill="#111111" stroke="#111111" stroke-width="0.14">Loser vs. Winner</text>
<line x1="205.40" y1="394.70" x2="350.00" y2="394.70" stroke="#6a6a6a" stroke-width="1.0"/>
<line x1="211.11" y1="394.70" x2="211.11" y2="397.90" stroke="#6a6a6a" stroke-width="1.0"/>
<text x="211.11" y="407.20" text-anchor="middle" font-size="10.4" font-weight="normal" fill="#111111" stroke="#111111" stroke-width="0.14">-30</text>
<line x1="224.51" y1="394.70" x2="224.51" y2="397.90" stroke="#6a6a6a" stroke-width="1.0"/>
<text x="224.51" y="407.20" text-anchor="middle" font-size="10.4" font-weight="normal" fill="#111111" stroke="#111111" stroke-width="0.14">-24</text>
<line x1="237.91" y1="394.70" x2="237.91" y2="397.90" stroke="#6a6a6a" stroke-width="1.0"/>
<text x="237.91" y="407.20" text-anchor="middle" font-size="10.4" font-weight="normal" fill="#111111" stroke="#111111" stroke-width="0.14">-18</text>
<line x1="251.30" y1="394.70" x2="251.30" y2="397.90" stroke="#6a6a6a" stroke-width="1.0"/>
<text x="251.30" y="407.20" text-anchor="middle" font-size="10.4" font-weight="normal" fill="#111111" stroke="#111111" stroke-width="0.14">-12</text>
<line x1="264.70" y1="394.70" x2="264.70" y2="397.90" stroke="#6a6a6a" stroke-width="1.0"/>
<text x="264.70" y="407.20" text-anchor="middle" font-size="10.4" font-weight="normal" fill="#111111" stroke="#111111" stroke-width="0.14">-6</text>
<line x1="278.10" y1="394.70" x2="278.10" y2="397.90" stroke="#6a6a6a" stroke-width="1.0"/>
<text x="278.10" y="407.20" text-anchor="middle" font-size="10.4" font-weight="normal" fill="#111111" stroke="#111111" stroke-width="0.14">0</text>
<line x1="291.50" y1="394.70" x2="291.50" y2="397.90" stroke="#6a6a6a" stroke-width="1.0"/>
<text x="291.50" y="407.20" text-anchor="middle" font-size="10.4" font-weight="normal" fill="#111111" stroke="#111111" stroke-width="0.14">6</text>
<line x1="304.90" y1="394.70" x2="304.90" y2="397.90" stroke="#6a6a6a" stroke-width="1.0"/>
<text x="304.90" y="407.20" text-anchor="middle" font-size="10.4" font-weight="normal" fill="#111111" stroke="#111111" stroke-width="0.14">12</text>
<line x1="318.29" y1="394.70" x2="318.29" y2="397.90" stroke="#6a6a6a" stroke-width="1.0"/>
<text x="318.29" y="407.20" text-anchor="middle" font-size="10.4" font-weight="normal" fill="#111111" stroke="#111111" stroke-width="0.14">18</text>
<line x1="331.69" y1="394.70" x2="331.69" y2="397.90" stroke="#6a6a6a" stroke-width="1.0"/>
<text x="331.69" y="407.20" text-anchor="middle" font-size="10.4" font-weight="normal" fill="#111111" stroke="#111111" stroke-width="0.14">24</text>
<line x1="345.09" y1="394.70" x2="345.09" y2="397.90" stroke="#6a6a6a" stroke-width="1.0"/>
<text x="345.09" y="407.20" text-anchor="middle" font-size="10.4" font-weight="normal" fill="#111111" stroke="#111111" stroke-width="0.14">30</text>
<text x="277.80" y="418.70" text-anchor="middle" font-size="10.4" font-weight="normal" fill="#111111" stroke="#111111" stroke-width="0.14">Vote change: national election</text>
</svg></body></html>
